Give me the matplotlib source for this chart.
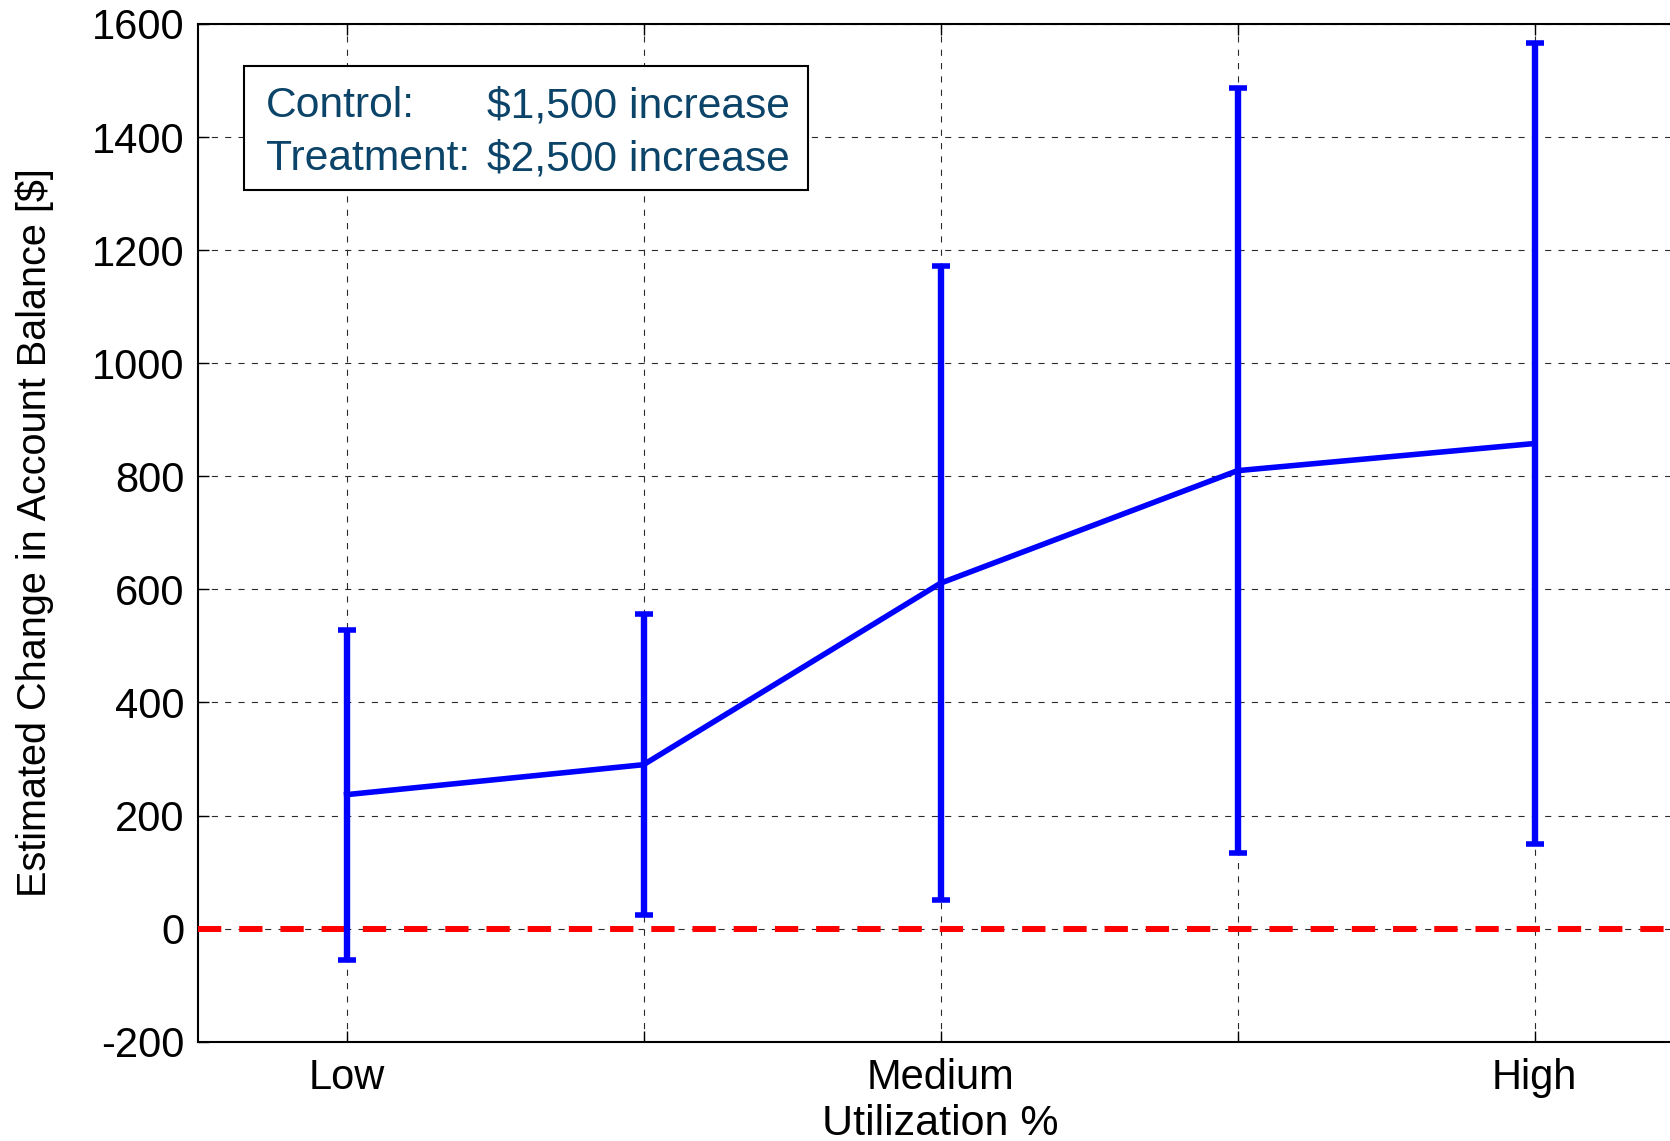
import matplotlib
matplotlib.use("Agg")
import matplotlib.pyplot as plt
from matplotlib.patches import Rectangle

# Estimated change in account balance by utilization group
positions = [1, 2, 3, 4, 5]
tick_labels = ["Low", "", "Medium", "", "High"]
estimates = [237, 290, 611, 810, 858]
half_widths = [292, 266, 561, 676, 708]

legend_names = ["Control:", "Treatment:"]
legend_values = ["$1,500 increase", "$2,500 increase"]

plt.rcParams["font.family"] = ["Liberation Sans", "DejaVu Sans"]
plt.rcParams["axes.unicode_minus"] = False

fig = plt.figure(figsize=(16.70, 11.41), dpi=100)
ax = fig.add_axes([0.1186, 0.087, 0.8892, 0.892])

blue = (0, 0, 1)
ax.errorbar(positions, estimates, yerr=half_widths, color=blue, lw=4.0,
            elinewidth=4.6, capsize=6.5, capthick=4.0, zorder=4)
ax.axhline(0, color=(1, 0, 0), lw=4.3, ls=(0, (3.9, 3.0)), zorder=3)

ax.set_xlim(0.5, 5.5)
ax.set_ylim(-200, 1600)
ax.set_xticks(positions)
ax.set_xticklabels(tick_labels)
ax.set_yticks(range(-200, 1601, 200))

ax.grid(True, color="#2a2a2a", lw=0.8, ls=(0, (5.5, 6.5)))
ax.tick_params(direction="in", length=8, width=1, labelsize=30,
               top=True, right=True)
ax.tick_params(axis="x", pad=12)
ax.tick_params(axis="y", pad=10)
for s in ax.spines.values():
    s.set_linewidth(1.5)

ax.set_xlabel("Utilization %", fontsize=31, labelpad=4)
ax.set_ylabel("Estimated Change in Account Balance [$]", fontsize=28.5,
              labelpad=27)

# Summary box of the two groups
text_color = "#0b4468"
ax.add_patch(Rectangle((0.031, 0.837), 0.380, 0.122, transform=ax.transAxes,
                       facecolor="white", edgecolor="black", lw=1.5, zorder=6))
row_y = [0.919, 0.867]
for name, value, y in zip(legend_names, legend_values, row_y):
    ax.text(0.0458, y, name, transform=ax.transAxes, fontsize=30.7,
            color=text_color, va="center", ha="left", zorder=7)
    ax.text(0.1946, y, value, transform=ax.transAxes, fontsize=30.7,
            color=text_color, va="center", ha="left", zorder=7)

fig.savefig("out.png", dpi=100)
